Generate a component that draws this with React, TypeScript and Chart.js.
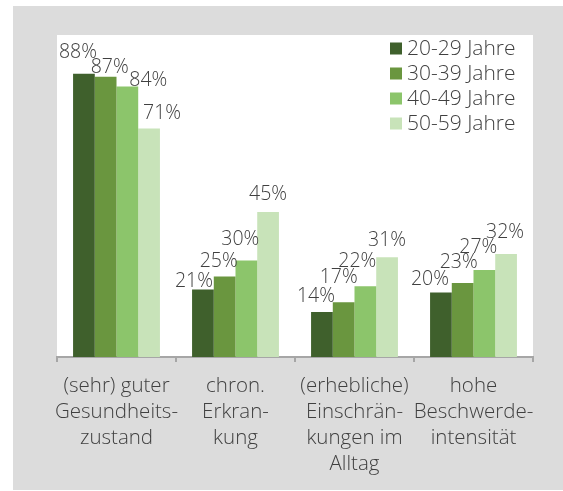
import React, { useEffect, useRef } from "react";
import { Chart, registerables } from "chart.js";

Chart.register(...registerables);

const categories: string[][] = [
  ["(sehr) guter", "Gesundheits-", "zustand"],
  ["chron.", "Erkran-", "kung"],
  ["(erhebliche)", "Einschrän-", "kungen im", "Alltag"],
  ["hohe", "Beschwerde-", "intensität"],
];

const seriesLabels = ["20-29 Jahre", "30-39 Jahre", "40-49 Jahre", "50-59 Jahre"];

const values2029 = [88, 21, 14, 20];
const values3039 = [87, 25, 17, 23];
const values4049 = [84, 30, 22, 27];
const values5059 = [71, 45, 31, 32];

const COLORS = ["#3f602c", "#6a963f", "#8cc56b", "#c8e3b9"];

// label nudges [dx, gap above bar top] per series, per category (mimics original label layout)
const LABEL_NUDGE: number[][][] = [
  [[-6, 16], [-9, 2], [-6, 10], [-11, 8]],
  [[4, 4], [-6, 10], [-5, 19], [-4, 15]],
  [[21, 1], [-6, 15], [-8, 19], [-6, 17]],
  [[13, 9], [0, 12], [0, 11], [-1, 16]],
];

const FONT = "'Open Sans', 'Liberation Sans', sans-serif";
const TEXT = "#404040";

export default function App() {
  const ref = useRef<HTMLCanvasElement | null>(null);

  useEffect(() => {
    if (!ref.current) return;
    const seriesValues = [values2029, values3039, values4049, values5059];

    const bgPlugin = {
      id: "bg",
      beforeDraw(chart: any) {
        const { ctx, chartArea } = chart;
        ctx.save();
        ctx.fillStyle = "#ffffff";
        ctx.fillRect(0, 0, chart.width, chart.height);
        ctx.fillStyle = "#dcdcdc";
        ctx.fillRect(13, 6, chart.width - 13, chart.height - 7);
        ctx.fillStyle = "#ffffff";
        ctx.fillRect(chartArea.left, chartArea.top, chartArea.right - chartArea.left, chartArea.bottom - chartArea.top);
        ctx.restore();
      },
    };

    const labelPlugin = {
      id: "labels",
      afterDatasetsDraw(chart: any) {
        const { ctx } = chart;
        ctx.save();
        ctx.font = `300 19.5px ${FONT}`;
        ctx.fillStyle = TEXT;
        ctx.textAlign = "center";
        ctx.textBaseline = "alphabetic";
        chart.data.datasets.forEach((ds: any, di: number) => {
          const meta = chart.getDatasetMeta(di);
          meta.data.forEach((bar: any, i: number) => {
            const [dx, gap] = LABEL_NUDGE[di][i];
            ctx.fillText(`${ds.data[i]}%`, bar.x + dx, bar.y - gap);
          });
        });
        ctx.restore();
      },
    };

    const legendPlugin = {
      id: "customLegend",
      afterDraw(chart: any) {
        const { ctx, chartArea } = chart;
        ctx.save();
        ctx.font = `300 21px ${FONT}`;
        ctx.textBaseline = "middle";
        ctx.textAlign = "left";
        const x0 = chartArea.right - 143;
        chart.data.datasets.forEach((ds: any, di: number) => {
          const cy = chartArea.top + 13.5 + di * 25;
          ctx.fillStyle = ds.backgroundColor;
          ctx.fillRect(x0, cy - 6, 12, 12);
          ctx.fillStyle = TEXT;
          ctx.fillText(ds.label, x0 + 17, cy + 1);
        });
        ctx.restore();
      },
    };

    const chart = new Chart(ref.current, {
      type: "bar",
      data: {
        labels: categories,
        datasets: seriesValues.map((vals, i) => ({
          label: seriesLabels[i],
          data: vals,
          backgroundColor: COLORS[i],
          borderWidth: 0,
          categoryPercentage: 0.73,
          barPercentage: 1.0,
        })),
      },
      options: {
        animation: false,
        responsive: false,
        layout: { padding: { left: 57, right: 30, top: 35, bottom: 0 } },
        plugins: {
          legend: { display: false },
          tooltip: { enabled: false },
        },
        scales: {
          y: { display: false, min: 0, max: 100 },
          x: {
            afterFit(scale: any) {
              scale.height = 134;
            },
            border: { display: true, color: "#a6a6a6", width: 2 },
            grid: {
              display: true,
              drawOnChartArea: false,
              drawTicks: true,
              tickLength: 5,
              offset: true,
              color: "#a6a6a6",
              lineWidth: 2,
            },
            ticks: {
              color: TEXT,
              padding: 11,
              maxRotation: 0,
              autoSkip: false,
              font: { family: FONT, size: 20.5, weight: "300" as any, lineHeight: 1.27 },
            },
          },
        },
      },
      plugins: [bgPlugin, labelPlugin, legendPlugin],
    });
    return () => chart.destroy();
  }, []);

  return (
    <div style={{ position: "absolute", left: 0, top: 0, width: 563, height: 491 }}>
      <canvas ref={ref} width={563} height={491} />
    </div>
  );
}
